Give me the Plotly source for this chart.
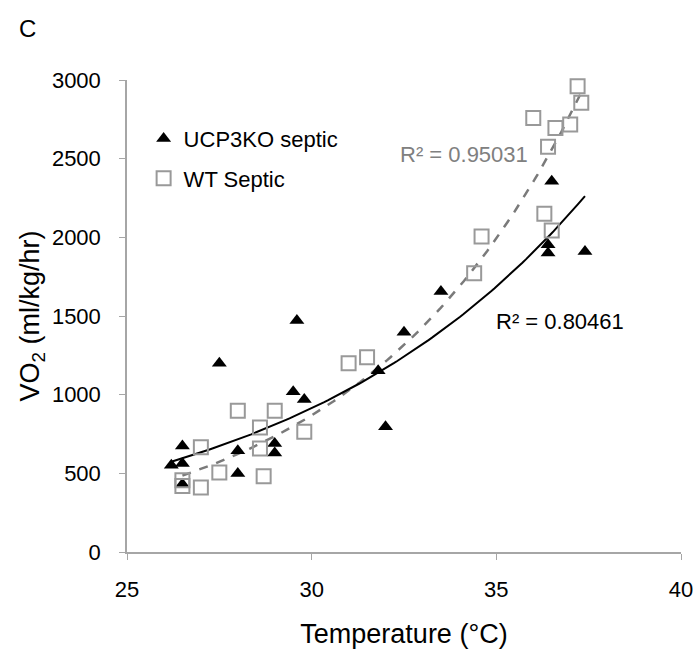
import numpy as np
import plotly.graph_objects as go

# UCP3KO septic (triangles)
ko_temp = [26.2, 26.5, 26.5, 26.5, 27.5, 28.0, 28.0, 29.0, 29.0, 29.5, 29.6, 29.8,
           31.8, 32.0, 32.5, 33.5, 36.4, 36.4, 36.5, 37.4]
ko_vo2 = [552, 673, 563, 430, 1199, 643, 499, 690, 630, 1019, 1471, 970,
          1152, 796, 1397, 1655, 1953, 1900, 2356, 1910]

# WT Septic (squares)
wt_temp = [26.5, 26.5, 27.0, 27.0, 27.5, 28.0, 28.6, 28.6, 28.7, 29.0, 29.8,
           31.0, 31.5, 34.4, 34.6, 36.0, 36.3, 36.4, 36.5, 36.6, 37.0, 37.2, 37.3]
wt_vo2 = [456, 420, 665, 410, 505, 898, 792, 658, 482, 898, 764,
          1199, 1238, 1772, 2005, 2759, 2150, 2575, 2044, 2695, 2717, 2960, 2855]

ko_r2_text = "R² = 0.80461"
wt_r2_text = "R² = 0.95031"

x_ticks = [25, 30, 35, 40]
y_ticks = [0, 500, 1000, 1500, 2000, 2500, 3000]


def exp_fit(xs, ys):
    xs = np.asarray(xs, float)
    ys = np.asarray(ys, float)
    b, ln_a = np.polyfit(xs, np.log(ys), 1)
    xx = np.linspace(xs.min(), xs.max(), 120)
    return xx, np.exp(ln_a) * np.exp(b * xx)


ko_fx, ko_fy = exp_fit(ko_temp, ko_vo2)
wt_fx, wt_fy = exp_fit(wt_temp, wt_vo2)

FONT = "Liberation Sans, Arial, sans-serif"
W, H = 698, 651
ML, MR, MT, MB = 127, 17, 80, 99
PW, PH = W - ML - MR, H - MT - MB

fig = go.Figure()

fig.add_trace(go.Scatter(x=wt_fx, y=wt_fy, mode="lines", showlegend=False,
                         line=dict(color="#7a7a7a", width=2.5, dash="dash"),
                         hoverinfo="skip"))
fig.add_trace(go.Scatter(x=ko_fx, y=ko_fy, mode="lines", showlegend=False,
                         line=dict(color="#000000", width=2),
                         hoverinfo="skip"))

fig.add_trace(go.Scatter(x=ko_temp, y=ko_vo2, mode="markers", name="UCP3KO septic",
                         legendgroup="ko", cliponaxis=False,
                         marker=dict(symbol="triangle-up", size=13, color="#000000")))
fig.add_trace(go.Scatter(x=wt_temp, y=wt_vo2, mode="markers", name="WT Septic",
                         legendgroup="wt", cliponaxis=False,
                         marker=dict(symbol="square-open", size=14, color="#999999",
                                     line=dict(width=2, color="#999999"))))

fig.add_annotation(x=32.33, y=2526, xref="x", yref="y", text=wt_r2_text,
                   showarrow=False, xanchor="left", yanchor="middle",
                   font=dict(family=FONT, size=22, color="#808080"))
fig.add_annotation(x=34.93, y=1462, xref="x", yref="y", text=ko_r2_text,
                   showarrow=False, xanchor="left", yanchor="middle",
                   font=dict(family=FONT, size=22, color="#000000"))
fig.add_annotation(x=(17 - ML) / PW, y=1 + (MT - 28) / PH, xref="paper", yref="paper",
                   text="C", showarrow=False, xanchor="left", yanchor="middle",
                   font=dict(family=FONT, size=24, color="#000000"))

fig.update_layout(
    width=W, height=H,
    margin=dict(l=ML, r=MR, t=MT, b=MB, autoexpand=False),
    paper_bgcolor="white", plot_bgcolor="white",
    font=dict(family=FONT, size=22, color="#000000"),
    legend=dict(x=0.03, y=0.92, xanchor="left", yanchor="top",
                bgcolor="rgba(0,0,0,0)", font=dict(size=22, family=FONT),
                tracegroupgap=8, itemwidth=30),
)

fig.update_xaxes(range=[25, 40], tickvals=x_ticks, showgrid=False, zeroline=False,
                 automargin=False,
                 showline=True, linecolor="#a6a6a6", linewidth=1.5,
                 ticks="outside", ticklen=6, tickcolor="#a6a6a6",
                 ticklabelstandoff=11,
                 tickfont=dict(size=22, color="#000000"),
                 title=dict(text="Temperature (°C)", font=dict(size=27), standoff=23))
fig.update_yaxes(range=[0, 3000], tickvals=y_ticks, showgrid=False, zeroline=False,
                 automargin=False,
                 showline=True, linecolor="#a6a6a6", linewidth=1.5,
                 ticks="outside", ticklen=6, tickcolor="#a6a6a6",
                 ticklabelstandoff=14,
                 tickfont=dict(size=22, color="#000000"),
                 title=dict(text="VO<sub>2</sub> (ml/kg/hr)", font=dict(size=27), standoff=4))

fig.write_html("out.html", config={"displayModeBar": False},
               post_script="document.body.style.margin='0';document.body.style.padding='0';")
